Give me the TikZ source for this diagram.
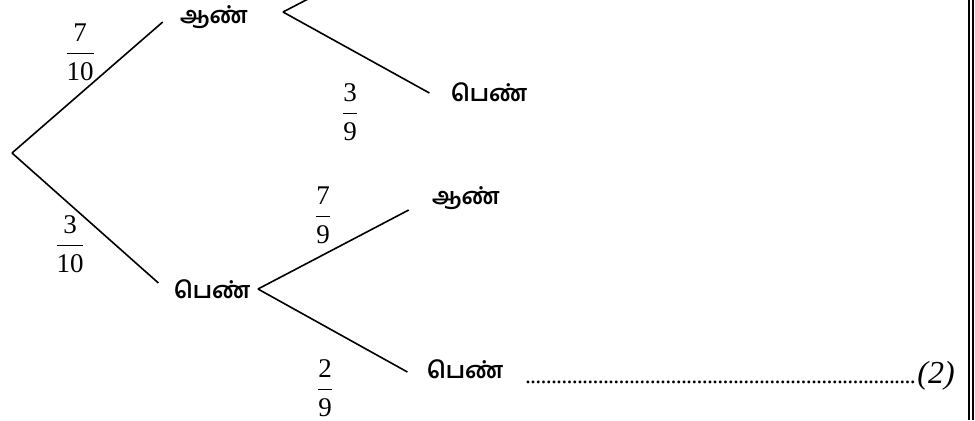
\documentclass[tikz,border=0pt]{standalone}
\usepackage{amsmath}
\usepackage{fontspec}
\setmainfont{Liberation Serif}
\newfontfamily\tamil[Script=Tamil]{Hind Madurai}
\usepackage{tikz}
\usetikzlibrary{positioning,calc}
\tikzset{leaf/.style={font=\tamil\bfseries\fontsize{11.5}{14}\selectfont, inner sep=0}}
\tikzset{prob/.style={font=\fontsize{13.5}{16}\selectfont, inner sep=0}}
\tikzset{branch/.style={line width=0.8pt}}
\newcommand{\drawleaf}{\node[leaf]}
\newcommand{\drawprob}{\node[prob]}
\newcommand{\prfrac}[2]{$\genfrac{}{}{0.8pt}{0}{\text{#1}}{\text{#2}}$}

\begin{document}
\begin{tikzpicture}[x=0.5pt,y=-0.5pt]
	\useasboundingbox (0,0) rectangle (975,420);
	\clip (0,0) rectangle (975,420);

	\coordinate (root) at (12,153);
	\coordinate (fork1) at (283,12);
	\coordinate (fork2) at (258,289);
	\coordinate (hidden) at (437,-68);

	\drawleaf (aan1) at (214,17) {ஆண்};
	\drawleaf (pen1) at (489,92) {பெண்};
	\drawleaf (pen2) at (212,289) {பெண்};
	\drawleaf (aan2) at (466,198) {ஆண்};
	\drawleaf (pen3) at (465,369) {பெண்};

	\drawprob (p1) at (80,52) {\prfrac{7}{10}};
	\drawprob (p2) at (70,244) {\prfrac{3}{10}};
	\drawprob (p3) at (350,112) {\prfrac{3}{9}};
	\drawprob (p4) at (323,215) {\prfrac{7}{9}};
	\drawprob (p5) at (325,388) {\prfrac{2}{9}};

	\draw[branch] (root) -- ([shift={(-17,5)}]aan1.west);
	\draw[branch] (root) -- ([shift={(-15,-6)}]pen2.west);
	\draw[branch] (fork1) -- (hidden);
	\draw[branch] (fork1) -- ([shift={(-21,1)}]pen1.west);
	\draw[branch] (fork2) -- ([shift={(-23,12)}]aan2.west);
	\draw[branch] (fork2) -- ([shift={(-19,3)}]pen3.west);

	\node[anchor=base west, inner sep=0, font=\fontsize{16}{18}\selectfont] (answer) at (525,383)
		{\hbox to 196pt{\fontsize{12}{14}\selectfont\leaders\hbox to 2.6pt{\hss.\hss}\hfill}\textit{(2)}};

	\draw[line width=0.75pt] (969,0) -- (969,420);
	\draw[line width=0.75pt] (973,0) -- (973,420);

\end{tikzpicture}
\end{document}
